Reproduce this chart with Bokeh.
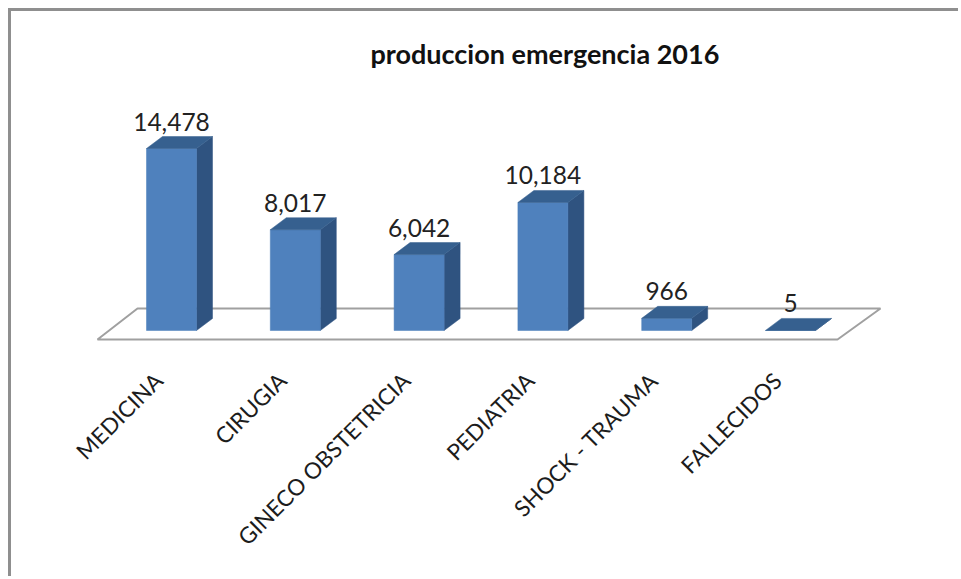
from bokeh.plotting import figure
from bokeh.models import ColumnDataSource, FixedTicker, Range1d, Title
from bokeh.core.properties import value
from bokeh.embed import file_html
from bokeh.resources import INLINE
import math

categories = ["MEDICINA", "CIRUGIA", "GINECO OBSTETRICIA", "PEDIATRIA", "SHOCK - TRAUMA", "FALLECIDOS"]
values = [14478, 8017, 6042, 10184, 966, 5]
labels = ["14,478", "8,017", "6,042", "10,184", "966", "5"]
title_text = "produccion emergencia 2016"

FONT = "Lato"
W, H = 950, 568
FRAME_LEFT, FRAME_TOP = 12, 71
FRAME_BOTTOM = 352
STEP = 123.8
FIRST = 172
BASE = 330
PX_PER_UNIT = 182 / 14478
LABEL_SHIFT = 13

xstart = -(FIRST - FRAME_LEFT) / STEP
xend = xstart + W / STEP
ystart = -(FRAME_BOTTOM - BASE) / PX_PER_UNIT
yend = (BASE - FRAME_TOP) / PX_PER_UNIT

def px_x(d):
    return d / STEP

def px_y(d):
    return d / PX_PER_UNIT

half = px_x(25)
dx = px_x(16)
dy = px_y(12)

p = figure(width=W, height=H, output_backend="svg", toolbar_location=None,
           x_range=Range1d(xstart, xend), y_range=Range1d(ystart, yend),
           min_border_left=0, min_border_right=0, min_border_top=FRAME_TOP - 11,
           min_border_bottom=11 + H - FRAME_BOTTOM)
p.styles = {"border-left": "3px solid #8f8f8f", "border-top": "3px solid #8f8f8f",
            "margin-left": "8px", "margin-top": "8px"}
p.grid.visible = False
p.outline_line_color = None
p.yaxis.visible = False
p.background_fill_color = "white"
p.border_fill_color = "white"
p.extra_x_ranges["labels"] = Range1d(xstart + px_x(LABEL_SHIFT), xend + px_x(LABEL_SHIFT))

p.title = Title(text=title_text, text_font=FONT, text_font_size="27px", text_font_style="bold",
                text_color="#111111", align="left", offset=359, standoff=4)

# floor
fx = [(98 - FIRST) / STEP, (838 - FIRST) / STEP, (881 - FIRST) / STEP, (138 - FIRST) / STEP]
fy = [px_y(BASE - 339), px_y(BASE - 339), px_y(BASE - 308), px_y(BASE - 308)]
p.patch(fx, fy, fill_color="white", line_color="#a0a0a0", line_width=2)

xs = list(range(len(values)))
side_x = [[i + half, i + half + dx, i + half + dx, i + half] for i in xs]
side_y = [[0, dy, v + dy, v] for v in values]
top_x = [[i - half, i + half, i + half + dx, i - half + dx] for i in xs]
top_y = [[v, v, v + dy, v + dy] for v in values]

p.patches(side_x, side_y, fill_color="#2f5380", line_color="#2f5380", line_width=0.5)
p.vbar(x=xs, top=values, bottom=0, width=2 * half, fill_color="#4f81bd", line_color="#4a7ebb", line_width=0.5)
p.patches(top_x, top_y, fill_color="#36608f", line_color="#36608f", line_width=0.5)

src = ColumnDataSource(dict(x=xs, y=values, t=labels))
p.text(x="x", y="y", text="t", source=src, text_font=value(FONT), text_font_size="24.5px",
       text_color="#222222", text_align="center", text_baseline="alphabetic", y_offset=-27)

ax = p.xaxis[0]
ax.x_range_name = "labels"
ax.ticker = FixedTicker(ticks=xs)
ax.major_label_overrides = {i: c for i, c in zip(xs, categories)}
ax.major_label_orientation = math.pi / 4
ax.major_label_text_font = FONT
ax.major_label_text_font_size = "22.5px"
ax.major_label_text_color = "#1c1c1c"
ax.major_label_standoff = 18
ax.axis_line_color = None
ax.major_tick_line_color = None
ax.minor_tick_line_color = None

open("out.html", "w").write(file_html(p, INLINE))
